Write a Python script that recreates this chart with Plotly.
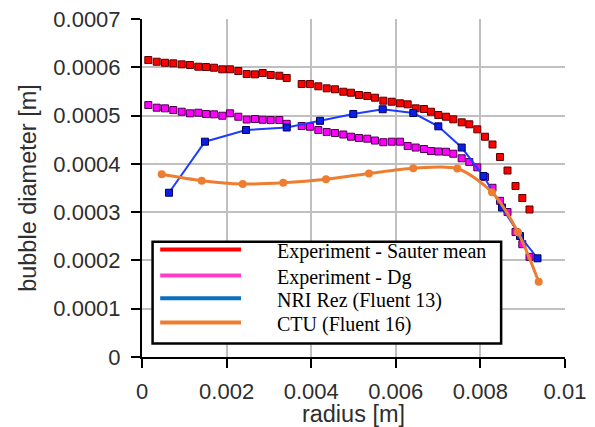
import plotly.graph_objects as go

# Radial positions of the experimental samples [m]
radius_exp = [
    0.000149, 0.000348, 0.000544, 0.000740, 0.000939, 0.001135, 0.001331, 0.001513,
    0.001702, 0.001898, 0.002080, 0.002277, 0.002475, 0.002671, 0.002853, 0.003043,
    0.003246, 0.003421, 0.003775, 0.003972, 0.004168, 0.004366, 0.004563, 0.004759,
    0.004941, 0.005130, 0.005326, 0.005508, 0.005705, 0.005903, 0.006099, 0.006281,
    0.006470, 0.006667, 0.006832, 0.007005, 0.007187, 0.007359, 0.007558, 0.007738,
    0.007927, 0.008109, 0.008286, 0.008463, 0.008641, 0.008830, 0.008991, 0.009161,
]

# Experiment - Sauter mean diameter [m]
sauter_mean = [
    0.0006150, 0.0006115, 0.0006094, 0.0006082, 0.0006061, 0.0006047, 0.0006012, 0.0006005,
    0.0005991, 0.0005958, 0.0005958, 0.0005923, 0.0005860, 0.0005854, 0.0005881, 0.0005840,
    0.0005825, 0.0005778, 0.0005653, 0.0005653, 0.0005606, 0.0005564, 0.0005544, 0.0005494,
    0.0005473, 0.0005426, 0.0005405, 0.0005370, 0.0005308, 0.0005287, 0.0005254, 0.0005233,
    0.0005150, 0.0005136, 0.0005080, 0.0005011, 0.0004976, 0.0004922, 0.0004860, 0.0004819,
    0.0004715, 0.0004562, 0.0004401, 0.0004142, 0.0003862, 0.0003541, 0.0003293, 0.0003055,
]

# Experiment - Dg [m]
dg = [
    0.0005218, 0.0005163, 0.0005150, 0.0005115, 0.0005080, 0.0005047, 0.0005059, 0.0005032,
    0.0005026, 0.0004997, 0.0005047, 0.0004976, 0.0004918, 0.0004929, 0.0004914, 0.0004908,
    0.0004908, 0.0004829, 0.0004784, 0.0004769, 0.0004701, 0.0004659, 0.0004639, 0.0004608,
    0.0004562, 0.0004535, 0.0004521, 0.0004483, 0.0004448, 0.0004459, 0.0004459, 0.0004369,
    0.0004338, 0.0004307, 0.0004266, 0.0004256, 0.0004251, 0.0004210, 0.0004115, 0.0004038,
    0.0003928, 0.0003727, 0.0003504, 0.0003235, 0.0003003, 0.0002589, 0.0002336, 0.0002074,
]

# NRI Rez (Fluent 13)
radius_nri = [
    0.000638, 0.001489, 0.002459, 0.003421, 0.004208, 0.004995, 0.005690,
    0.006414, 0.007005, 0.007558, 0.008073, 0.008511, 0.008936, 0.009350,
]
diam_nri = [
    0.0003402, 0.0004459, 0.0004701, 0.0004753, 0.0004891, 0.0005032, 0.0005131,
    0.0005053, 0.0004777, 0.0004338, 0.0003748, 0.0003096, 0.0002506, 0.0002044,
]

# CTU (Fluent 16)
radius_ctu = [
    0.000466, 0.001411, 0.002381, 0.003340, 0.004350, 0.005366,
    0.006414, 0.007454, 0.008274, 0.008889, 0.009378,
]
diam_ctu = [
    0.0003783, 0.0003651, 0.0003583, 0.0003609, 0.0003680, 0.0003800,
    0.0003908, 0.0003903, 0.0003411, 0.0002582, 0.0001559,
]

# Axis ticks
x_ticks = [0, 0.002, 0.004, 0.006, 0.008, 0.01]
x_tick_text = ["0", "0.002", "0.004", "0.006", "0.008", "0.01"]
y_ticks = [0, 0.0001, 0.0002, 0.0003, 0.0004, 0.0005, 0.0006, 0.0007]
y_tick_text = ["0", "0.0001", "0.0002", "0.0003", "0.0004", "0.0005", "0.0006", "0.0007"]

# Legend entries (label, swatch colour)
legend_labels = [
    "Experiment - Sauter mean",
    "Experiment - Dg",
    "NRI Rez (Fluent 13)",
    "CTU (Fluent 16)",
]
legend_colors = ["#FF0000", "#FF3DCB", "#0A70C2", "#ED7D31"]

fig = go.Figure()

fig.add_trace(go.Scatter(
    x=radius_exp, y=sauter_mean, mode="markers", name=legend_labels[0],
    marker=dict(symbol="square", size=7, color="#FF0000",
                line=dict(color="#5A0000", width=1)),
))
fig.add_trace(go.Scatter(
    x=radius_exp, y=dg, mode="markers", name=legend_labels[1],
    marker=dict(symbol="square", size=7, color="#FF00FF",
                line=dict(color="#4A004A", width=1)),
))
fig.add_trace(go.Scatter(
    x=radius_nri, y=diam_nri, mode="lines+markers", name=legend_labels[2],
    line=dict(color="#1E3CFF", width=2),
    marker=dict(symbol="square", size=7, color="#0A1EE6",
                line=dict(color="#00005A", width=1)),
))
fig.add_trace(go.Scatter(
    x=radius_ctu, y=diam_ctu, mode="lines+markers", name=legend_labels[3],
    line=dict(color="#ED7D31", width=3, shape="spline", smoothing=0.8),
    marker=dict(symbol="circle", size=8, color="#ED7D31"),
))

tick_font = dict(family="Liberation Sans, Arial, sans-serif", size=22, color="#2E2E2E")
title_font = dict(family="Liberation Sans, Arial, sans-serif", size=23.5, color="#2E2E2E")

fig.update_xaxes(
    range=[0, 0.01], tickvals=x_ticks, ticktext=x_tick_text,
    showgrid=True, gridcolor="#C0C0C0", gridwidth=1.5,
    showline=True, linecolor="black", linewidth=2,
    ticks="outside", ticklen=9, tickwidth=2, tickcolor="black",
    ticklabelstandoff=5, automargin=False,
    zeroline=False, tickfont=tick_font,
    title=dict(text="radius [m]", font=title_font, standoff=5),
)
fig.update_yaxes(
    range=[0, 0.0007], tickvals=y_ticks, ticktext=y_tick_text,
    showgrid=True, gridcolor="#C0C0C0", gridwidth=1.5,
    showline=True, linecolor="black", linewidth=2,
    ticks="outside", ticklen=9, tickwidth=2, tickcolor="black",
    ticklabelstandoff=6, automargin=False,
    zeroline=False, tickfont=tick_font,
    title=dict(text="bubble diameter [m]", font=title_font, standoff=10),
)

# Boxed legend drawn inside the plot area
box_x0, box_x1 = 0.025, 0.849
box_y0, box_y1 = 0.040, 0.341
shapes = [dict(type="rect", xref="paper", yref="paper",
               x0=box_x0, x1=box_x1, y0=box_y0, y1=box_y1,
               line=dict(color="black", width=2.5), fillcolor="white", layer="above")]
annotations = []
row_y = [0.318, 0.241, 0.174, 0.102]
for label, color, yy in zip(legend_labels, legend_colors, row_y):
    shapes.append(dict(type="line", xref="paper", yref="paper",
                       x0=0.043, x1=0.234, y0=yy, y1=yy,
                       line=dict(color=color, width=4), layer="above"))
    annotations.append(dict(xref="paper", yref="paper", x=0.314, y=yy - 0.006,
                            xanchor="left", yanchor="middle", showarrow=False,
                            text=label,
                            font=dict(family="Liberation Serif, Times New Roman, serif",
                                      size=20, color="black")))

fig.update_layout(
    width=595, height=427,
    margin=dict(l=142, r=30, t=19, b=70),
    paper_bgcolor="white", plot_bgcolor="white",
    showlegend=False,
    shapes=shapes, annotations=annotations,
)

fig.write_html("out.html")
